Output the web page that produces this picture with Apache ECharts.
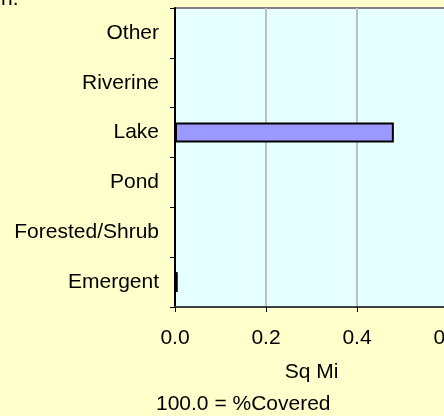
<!DOCTYPE html>
<html>
<head>
<meta charset="utf-8">
<script src="https://cdn.jsdelivr.net/npm/echarts@6/dist/echarts.min.js"></script>
<style>
html,body{margin:0;padding:0;background:#FFFFCC;overflow:hidden;}
#c{width:444px;height:416px;}
</style>
</head>
<body>
<div id="c"></div>
<script>
const categories = ['Emergent', 'Forested/Shrub', 'Pond', 'Lake', 'Riverine', 'Other'];
const sqMiValues = [0.006, 0, 0, 0.481, 0, 0];
const xTicks = [0, 0.2, 0.4, 0.6];
const xAxisName = 'Sq Mi';
const footnote = '100.0 = %Covered';
const titleFragment = 'n.';

const FONT = 'Liberation Sans, Arial, sans-serif';
const FS = 21;
const chart = echarts.init(document.getElementById('c'), null, {renderer: 'canvas'});
chart.setOption({
  backgroundColor: '#FFFFCC',
  animation: false,
  grid: {
    left: 175, top: 8, width: 273, height: 299,
    outerBoundsMode: 'none', containLabel: false,
    show: true, backgroundColor: '#E6FFFF', borderColor: '#808080', borderWidth: 2
  },
  xAxis: {
    type: 'value',
    min: xTicks[0], max: xTicks[xTicks.length - 1], interval: 0.2,
    name: xAxisName, nameLocation: 'middle', nameGap: 55,
    nameTextStyle: {fontFamily: FONT, fontSize: FS, color: '#000'},
    axisLine: {show: true, lineStyle: {color: '#404040', width: 2}},
    axisTick: {show: true, length: 5, lineStyle: {color: '#000', width: 1}},
    axisLabel: {fontFamily: FONT, fontSize: FS, color: '#000', margin: 21,
      hideOverlap: false, formatter: v => v.toFixed(1)},
    splitLine: {show: true, lineStyle: {color: '#C0C0C0', width: 2}}
  },
  yAxis: {
    type: 'category',
    data: categories,
    axisLine: {show: true, lineStyle: {color: '#000', width: 2}},
    axisTick: {show: true, length: 5, lineStyle: {color: '#000', width: 1}},
    axisLabel: {fontFamily: FONT, fontSize: FS, color: '#000', margin: 16},
    splitLine: {show: false}
  },
  series: [{
    type: 'bar',
    data: sqMiValues,
    barWidth: 20,
    itemStyle: {color: '#9999FF', borderColor: '#000', borderWidth: 2}
  }],
  graphic: [
    {type: 'text', left: 156, top: 394,
     style: {text: footnote, font: FS + 'px ' + FONT, fill: '#000'}},
    {type: 'text', left: 1, top: -11,
     style: {text: titleFragment, font: FS + 'px ' + FONT, fill: '#000'}}
  ]
});
</script>
</body>
</html>
